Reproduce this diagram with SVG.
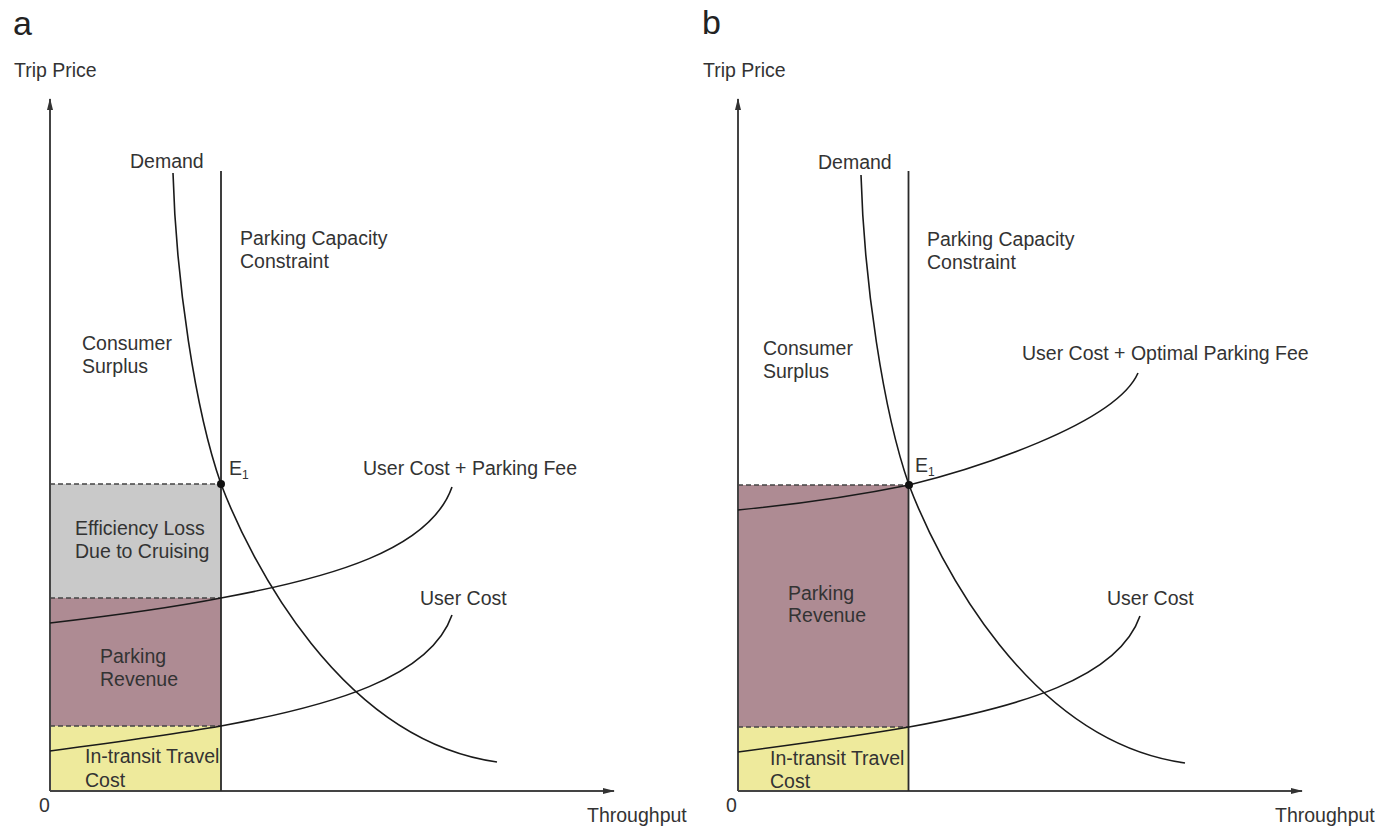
<svg xmlns="http://www.w3.org/2000/svg" width="1377" height="829" viewBox="0 0 1377 829">
<defs>
<style>
text{font-family:"Liberation Sans",Arial,sans-serif;font-size:19.5px;fill:#333}
.big{font-size:34px;fill:#222}
.sub{font-size:12px}
.axis{stroke:#444;stroke-width:2;fill:none}
.cap{stroke:#2a2a2a;stroke-width:1.8;fill:none}
.curve{stroke:#1a1a1a;stroke-width:1.6;fill:none}
.dash{stroke:#444;stroke-width:1.6;stroke-dasharray:5 3;fill:none}
.grey{fill:#c9c9c9}
.mauve{fill:#ae8b93}
.yellow{fill:#eeea9c}
</style>
<marker id="arr" viewBox="0 0 12 6" refX="11" refY="3" markerWidth="12" markerHeight="6" orient="auto" markerUnits="userSpaceOnUse">
<path d="M0,0 L12,3 L0,6 z" fill="#333"/>
</marker>
</defs>
<rect width="1377" height="829" fill="#fff"/>

<!-- Panel a -->
<g id="panel-a">
  <g id="a-areas">
    <rect class="grey" x="50" y="484" width="171" height="114"/>
    <rect class="mauve" x="50" y="598" width="171" height="128"/>
    <rect class="yellow" x="50" y="726" width="171" height="65"/>
    <path class="dash" d="M50,484 H221 M50,598 H221 M50,726 H221"/>
  </g>
  <g id="a-connectors">
    <path class="axis" d="M50,791 V99" marker-end="url(#arr)"/>
    <path class="axis" d="M50,791 H614" marker-end="url(#arr)"/>
    <path class="cap" d="M221,171 V791"/>
    <path id="a-demand" class="curve" d="M173,173 C176,280 195,410 221,484 C250,560 340,740 497,762"/>
    <path id="a-fee" class="curve" d="M50,623 C110,616 170,608 221,598 C330,578 430,550 452,487"/>
    <path id="a-user" class="curve" d="M50,751 C110,743 170,735 221,726 C330,706 430,678 452,615"/>
    <circle cx="221" cy="484" r="4" fill="#111"/>
  </g>
  <g id="a-labels">
    <text class="big" x="13" y="35">a</text>
    <text x="14" y="77">Trip Price</text>
    <text x="587" y="822">Throughput</text>
    <text x="39" y="812">0</text>
    <text x="130" y="168">Demand</text>
    <text x="240" y="245">Parking Capacity</text>
    <text x="240" y="268">Constraint</text>
    <text x="82" y="350">Consumer</text>
    <text x="82" y="373">Surplus</text>
    <text x="229" y="475">E<tspan class="sub" dy="4">1</tspan></text>
    <text x="363" y="475">User Cost + Parking Fee</text>
    <text x="420" y="605">User Cost</text>
    <text x="75" y="535">Efficiency Loss</text>
    <text x="75" y="558">Due to Cruising</text>
    <text x="100" y="663">Parking</text>
    <text x="100" y="686">Revenue</text>
    <text x="85" y="763">In-transit Travel</text>
    <text x="85" y="787">Cost</text>
  </g>
</g>

<!-- Panel b -->
<g id="panel-b">
  <g id="b-areas" transform="translate(688,0)">
    <rect class="mauve" x="50" y="485" width="171" height="242"/>
    <rect class="yellow" x="50" y="727" width="171" height="64"/>
    <path class="dash" d="M50,485 H221 M50,727 H221"/>
  </g>
  <g id="b-connectors" transform="translate(688,0)">
    <path class="axis" d="M50,791 V99" marker-end="url(#arr)"/>
    <path class="axis" d="M50,791 H614" marker-end="url(#arr)"/>
    <path class="cap" d="M220.5,171 V791"/>
    <path id="b-demand" class="curve" d="M173,175 C176,281 195,411 221,485 C250,561 340,741 497,763"/>
    <path id="b-fee" class="curve" d="M50,510 C112,504 172,495 221,485 C282,470 427,425 450,373"/>
    <path id="b-user" class="curve" d="M50,752 C110,744 170,736 221,727 C330,707 430,679 452,616"/>
    <circle cx="221" cy="485" r="4" fill="#111"/>
  </g>
  <g id="b-labels">
    <text class="big" x="702" y="34">b</text>
    <text x="703" y="77">Trip Price</text>
    <text x="1275" y="822">Throughput</text>
    <text x="726" y="812">0</text>
    <text x="818" y="169">Demand</text>
    <text x="927" y="246">Parking Capacity</text>
    <text x="927" y="269">Constraint</text>
    <text x="763" y="355">Consumer</text>
    <text x="763" y="378">Surplus</text>
    <text x="915" y="472">E<tspan class="sub" dy="4">1</tspan></text>
    <text x="1022" y="360">User Cost + Optimal Parking Fee</text>
    <text x="1107" y="605">User Cost</text>
    <text x="788" y="600">Parking</text>
    <text x="788" y="622">Revenue</text>
    <text x="770" y="765">In-transit Travel</text>
    <text x="770" y="788">Cost</text>
  </g>
</g>
</svg>
